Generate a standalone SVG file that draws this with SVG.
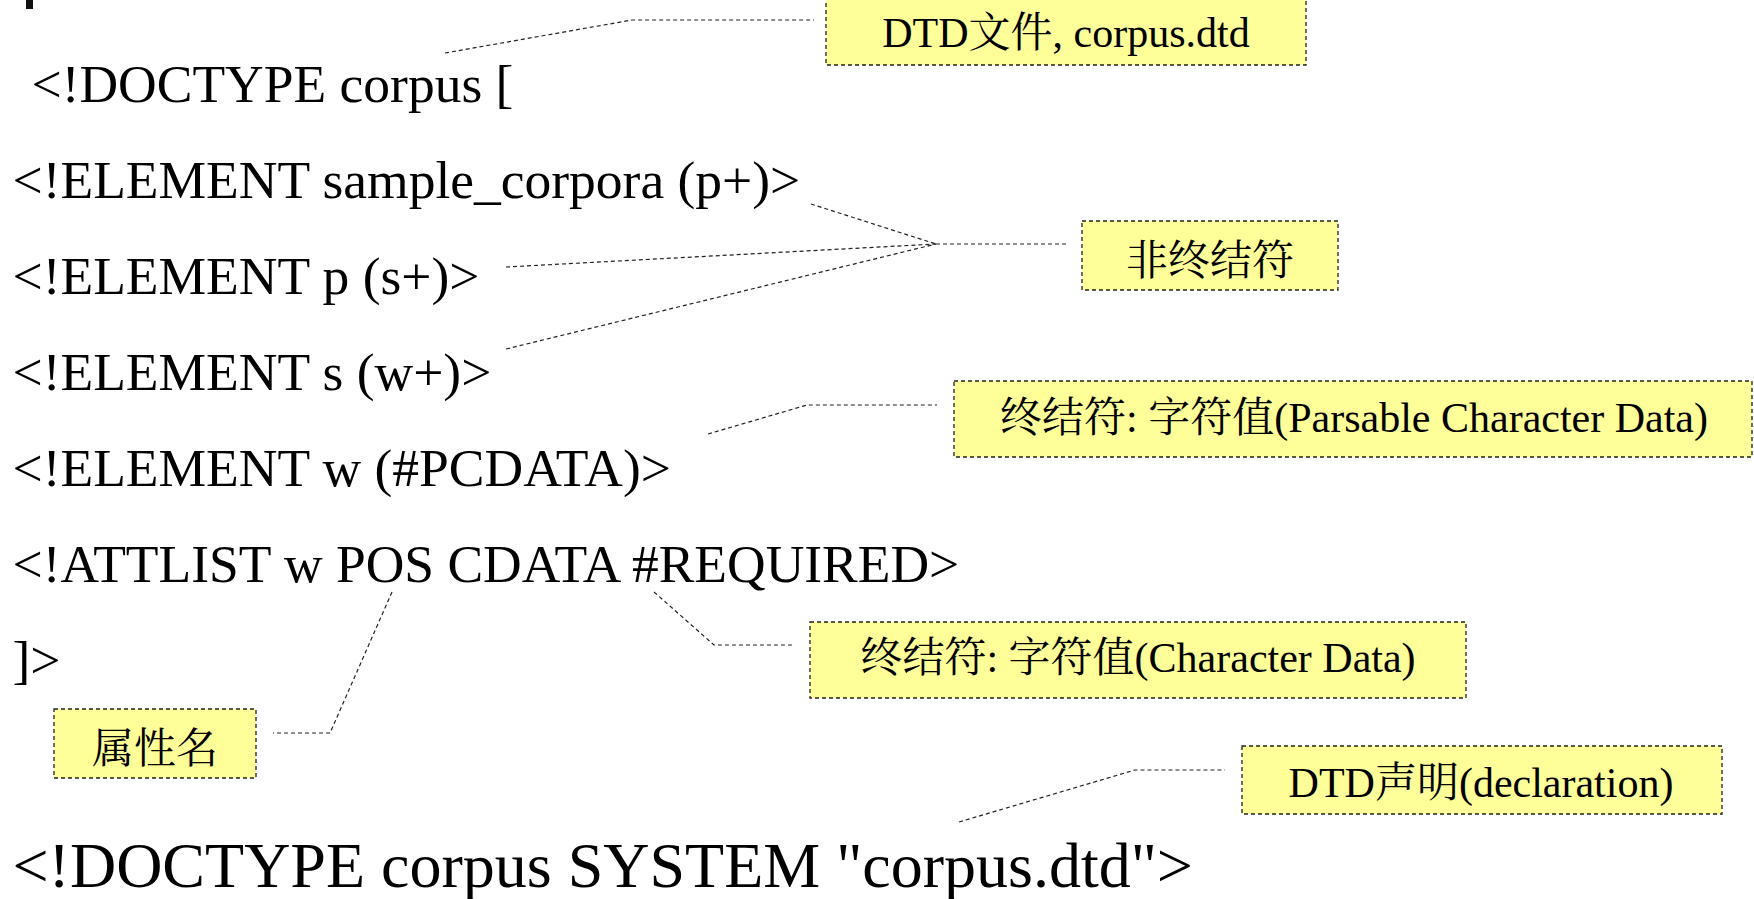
<svg xmlns="http://www.w3.org/2000/svg" width="1754" height="899" viewBox="0 0 1754 899">
<style>
.code{font-family:"Liberation Serif","Times New Roman",serif;font-size:53.5px;fill:#000}
.big{font-size:64px}
.lbl{font-family:"Liberation Serif","Times New Roman",serif;font-size:42px;fill:#000;text-anchor:middle}
.cjk{font-family:"Noto Serif CJK SC","Noto Sans CJK SC",serif}
.box{fill:#FFFF99;stroke:#222;stroke-width:1.3;stroke-dasharray:4 3}
.lead{fill:none;stroke:#222;stroke-width:1.2;stroke-dasharray:4 3}
</style>
<rect width="1754" height="899" fill="#fff"/>
<rect x="26" y="0" width="7" height="9" fill="#111"/>
<g id="code">
<text class="code" x="31.5" y="102"> &lt;!DOCTYPE corpus [</text>
<text class="code" x="12.5" y="198">&lt;!ELEMENT sample_corpora (p+)&gt;</text>
<text class="code" x="12.5" y="294">&lt;!ELEMENT p (s+)&gt;</text>
<text class="code" x="12.5" y="390">&lt;!ELEMENT s (w+)&gt;</text>
<text class="code" x="12.5" y="486">&lt;!ELEMENT w (#PCDATA)&gt;</text>
<text class="code" x="12.5" y="582">&lt;!ATTLIST w POS CDATA #REQUIRED&gt;</text>
<text class="code" x="12.5" y="678">]&gt;</text>
<text class="code big" x="12.5" y="887">&lt;!DOCTYPE corpus SYSTEM "corpus.dtd"&gt;</text>
</g>
<g id="connectors">
<polyline class="lead" points="445,53 632,20 814,20"/>
<polyline class="lead" points="811,204 936,244"/>
<polyline class="lead" points="506,267 936,244"/>
<polyline class="lead" points="506,349 936,244"/>
<polyline class="lead" points="936,244 1068,244"/>
<polyline class="lead" points="708,434 807,405 937,405"/>
<polyline class="lead" points="654,592 714,645 794,645"/>
<polyline class="lead" points="392,592 330,733 273,733"/>
<polyline class="lead" points="959,822 1135,770 1225,770"/>
</g>
<g id="n-dtdfile">
<rect class="box" x="826" y="-2" width="480" height="67"/>
<text class="lbl" x="1066" y="47">DTD<tspan class="cjk">文件</tspan>, corpus.dtd</text>
</g>
<g id="n-nonterminal">
<rect class="box" x="1082" y="221" width="256" height="69"/>
<text class="lbl" x="1210" y="275"><tspan class="cjk">非终结符</tspan></text>
</g>
<g id="n-pcdata">
<rect class="box" x="954" y="381" width="798" height="76"/>
<text class="lbl" x="1354" y="432"><tspan class="cjk">终结符</tspan>: <tspan class="cjk">字符值</tspan>(Parsable Character Data)</text>
</g>
<g id="n-cdata">
<rect class="box" x="810" y="622" width="656" height="76"/>
<text class="lbl" x="1138" y="672"><tspan class="cjk">终结符</tspan>: <tspan class="cjk">字符值</tspan>(Character Data)</text>
</g>
<g id="n-attrname">
<rect class="box" x="54" y="709" width="202" height="69"/>
<text class="lbl" x="155" y="763"><tspan class="cjk">属性名</tspan></text>
</g>
<g id="n-decl">
<rect class="box" x="1242" y="746" width="480" height="68"/>
<text class="lbl" x="1481" y="797">DTD<tspan class="cjk">声明</tspan>(declaration)</text>
</g>
</svg>
